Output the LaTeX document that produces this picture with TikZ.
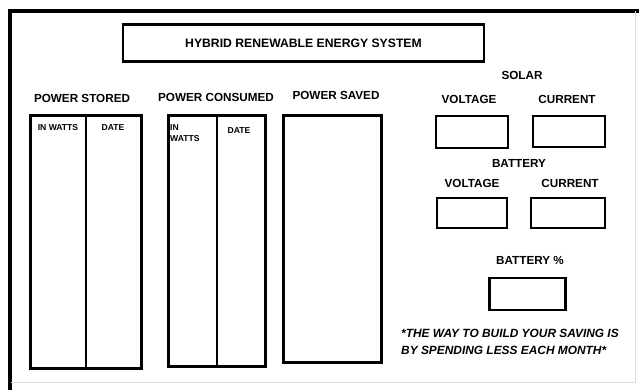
\documentclass[tikz,border=0pt]{standalone}
\usepackage{fontspec}
\setmainfont{Liberation Sans}
\usetikzlibrary{positioning}

\begin{document}
\begin{tikzpicture}[
    x=1pt,y=-1pt,
    frame/.style={draw=black,line width=3.2pt},
    panel/.style={draw=black,line width=2.6pt,inner sep=0pt},
    meter/.style={panel,minimum width=72pt,minimum height=32pt},
    heading/.style={font=\bfseries\fontsize{11.7}{13}\selectfont,inner sep=0pt},
    colhead/.style={font=\bfseries\fontsize{8.6}{10.5}\selectfont,inner sep=0pt,align=left},
    motto/.style={font=\bfseries\itshape\fontsize{11.9}{17}\selectfont,inner sep=0pt,align=left}]
\useasboundingbox (0,0) rectangle (639,390);
% outer frame
\draw[frame] (10,400) -- (10,11) -- (650,11);
\draw[black!12,line width=1pt] (635,11) -- (635,382) -- (11,382);
% title
\node[panel,minimum width=361pt,minimum height=37pt] (title) at (303.5,43) {};
\node[heading,font=\bfseries\fontsize{12.2}{13}\selectfont] (titletext) at (title.center) {HYBRID RENEWABLE ENERGY SYSTEM};
% tables
\node[panel,minimum width=111pt,minimum height=253pt] (stored) at (86,242) {};
\draw[line width=2.6pt] (stored.north) -- (stored.south);
\node[heading] (storedhead) at (82,98) {POWER STORED};
\node[colhead] (storedw) at (58,128) {IN WATTS};
\node[colhead] (storedd) at (113,128) {DATE};

\node[panel,minimum width=97pt,minimum height=251pt] (consumed) at (217,241) {};
\draw[line width=2.6pt] (consumed.north) -- (consumed.south);
\node[heading] (consumedhead) at (216,97) {POWER CONSUMED};
\node[colhead,anchor=west] (consumedw) at (170,133) {IN\\WATTS};
\node[colhead] (consumedd) at (239,131) {DATE};

\node[panel,minimum width=98pt,minimum height=247pt] (saved) at (332.5,239) {};
\node[heading] (savedhead) at (336,95) {POWER SAVED};
% solar
\node[heading] (solar) at (522,75) {SOLAR};
\node[meter] (solarv) at (472,132) {};
\node[meter,minimum height=31pt] (solari) at (569,131.5) {};
\node[heading] (solarvhead) at (469,99) {VOLTAGE};
\node[heading] (solarihead) at (567,99) {CURRENT};
% battery
\node[heading] (battery) at (519,163) {BATTERY};
\node[meter,minimum width=70pt,minimum height=30pt] (battv) at (472,213) {};
\node[meter,minimum width=74pt,minimum height=30pt] (batti) at (568,213) {};
\node[heading] (battvhead) at (472,183) {VOLTAGE};
\node[heading] (battihead) at (570,183) {CURRENT};
\node[heading] (pcthead) at (530,260) {BATTERY \%};
\node[meter,minimum width=76pt,minimum height=32pt] (pct) at (527.5,294) {};
\node[motto,anchor=west] (saying) at (401,341.5) {*THE WAY TO BUILD YOUR SAVING IS\\BY SPENDING LESS EACH MONTH*};
\end{tikzpicture}
\end{document}
